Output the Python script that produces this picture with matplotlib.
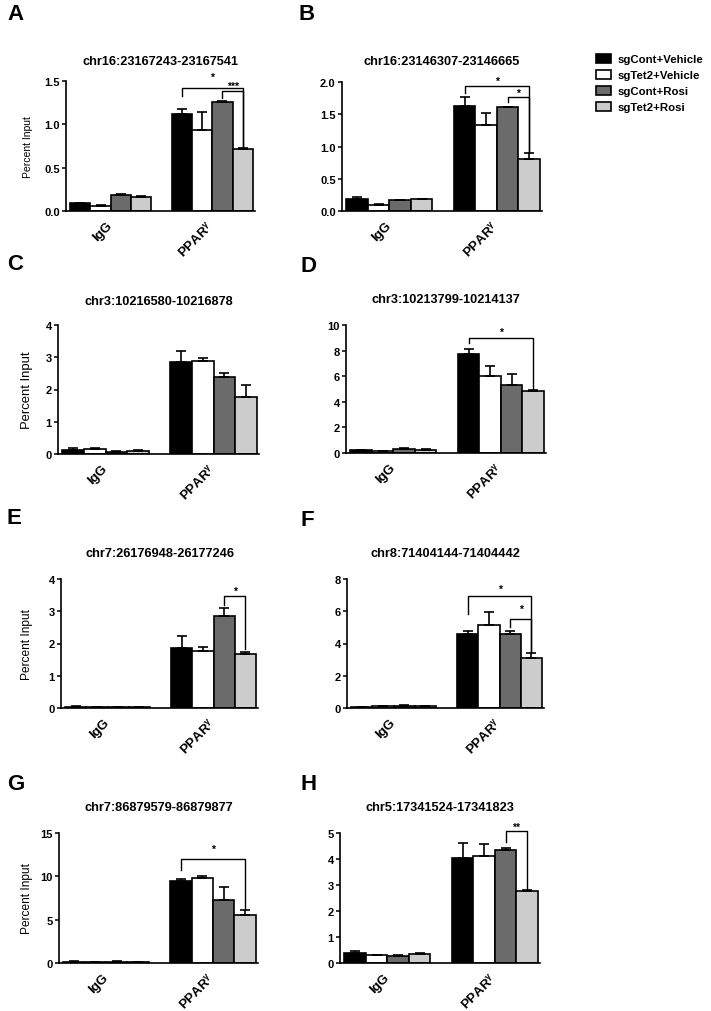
import matplotlib
matplotlib.use("Agg")
import matplotlib.pyplot as plt
from matplotlib.patches import Patch
import numpy as np

plt.rcParams['font.family'] = ['Liberation Sans', 'DejaVu Sans']
plt.rcParams['font.weight'] = 'bold'
plt.rcParams['mathtext.fontset'] = 'custom'
plt.rcParams['mathtext.bf'] = 'Liberation Sans:bold'
plt.rcParams['mathtext.default'] = 'bf'

GROUPS = ["sgCont+Vehicle", "sgTet2+Vehicle", "sgCont+Rosi", "sgTet2+Rosi"]
COLORS = ["#000000", "#ffffff", "#6b6b6b", "#cccccc"]
XLABELS = ["IgG", "PPAR$^{γ}$"]

LETTERS = ["A", "B", "C", "D", "E", "F", "G", "H"]
TITLES = ["chr16:23167243-23167541", "chr16:23146307-23146665",
          "chr3:10216580-10216878", "chr3:10213799-10214137",
          "chr7:26176948-26177246", "chr8:71404144-71404442",
          "chr7:86879579-86879877", "chr5:17341524-17341823"]
YMAX = [1.5, 2.0, 4, 10, 4, 8, 15, 5]
YSTEP = [0.5, 0.5, 1, 2, 1, 2, 5, 1]

# means / upper SEM, IgG then PPARg
A_IGG, A_IGG_ERR = [0.09, 0.06, 0.19, 0.16], [0.005, 0.015, 0.006, 0.012]
A_PPAR, A_PPAR_ERR = [1.12, 0.93, 1.26, 0.72], [0.06, 0.21, 0.012, 0.005]
B_IGG, B_IGG_ERR = [0.18, 0.10, 0.17, 0.18], [0.04, 0.015, 0.008, 0.008]
B_PPAR, B_PPAR_ERR = [1.63, 1.34, 1.61, 0.81], [0.14, 0.18, 0.01, 0.09]
C_IGG, C_IGG_ERR = [0.12, 0.15, 0.07, 0.10], [0.06, 0.03, 0.01, 0.01]
C_PPAR, C_PPAR_ERR = [2.86, 2.87, 2.40, 1.78], [0.34, 0.10, 0.12, 0.35]
D_IGG, D_IGG_ERR = [0.20, 0.15, 0.34, 0.27], [0.06, 0.03, 0.05, 0.03]
D_PPAR, D_PPAR_ERR = [7.70, 6.05, 5.32, 4.87], [0.40, 0.74, 0.82, 0.05]
E_IGG, E_IGG_ERR = [0.04, 0.03, 0.03, 0.03], [0.01, 0.005, 0.005, 0.005]
E_PPAR, E_PPAR_ERR = [1.87, 1.76, 2.85, 1.66], [0.35, 0.12, 0.24, 0.08]
F_IGG, F_IGG_ERR = [0.06, 0.12, 0.15, 0.12], [0.02, 0.02, 0.03, 0.02]
F_PPAR, F_PPAR_ERR = [4.62, 5.15, 4.62, 3.10], [0.18, 0.80, 0.16, 0.28]
G_IGG, G_IGG_ERR = [0.15, 0.15, 0.15, 0.12], [0.03, 0.02, 0.03, 0.02]
G_PPAR, G_PPAR_ERR = [9.42, 9.77, 7.31, 5.50], [0.30, 0.25, 1.46, 0.65]
H_IGG, H_IGG_ERR = [0.40, 0.31, 0.28, 0.35], [0.08, 0.01, 0.03, 0.04]
H_PPAR, H_PPAR_ERR = [4.03, 4.13, 4.33, 2.77], [0.57, 0.45, 0.08, 0.03]

# significance brackets: (bar i, bar j, y top, left leg end, right leg end, label, label y)
A_SIG = [(0, 3, 1.42, 1.33, 0.74, "*", 1.55), (2, 3, 1.38, 1.30, 0.74, "***", 1.44)]
B_SIG = [(0, 3, 1.94, 1.83, 0.92, "*", 2.02), (2, 3, 1.76, 1.69, 0.92, "*", 1.83)]
C_SIG = []
D_SIG = [(0, 3, 9.0, 8.6, 5.0, "*", 9.5)]
E_SIG = [(2, 3, 3.48, 3.2, 1.84, "*", 3.62)]
F_SIG = [(0, 3, 6.97, 5.84, 3.46, "*", 7.4), (2, 3, 5.53, 5.05, 3.46, "*", 6.15)]
G_SIG = [(0, 3, 12.0, 10.7, 6.3, "*", 13.2)]
H_SIG = [(2, 3, 5.09, 4.65, 2.82, "**", 5.25)]

IGG = [A_IGG, B_IGG, C_IGG, D_IGG, E_IGG, F_IGG, G_IGG, H_IGG]
IGG_ERR = [A_IGG_ERR, B_IGG_ERR, C_IGG_ERR, D_IGG_ERR, E_IGG_ERR, F_IGG_ERR, G_IGG_ERR, H_IGG_ERR]
PPAR = [A_PPAR, B_PPAR, C_PPAR, D_PPAR, E_PPAR, F_PPAR, G_PPAR, H_PPAR]
PPAR_ERR = [A_PPAR_ERR, B_PPAR_ERR, C_PPAR_ERR, D_PPAR_ERR, E_PPAR_ERR, F_PPAR_ERR, G_PPAR_ERR, H_PPAR_ERR]
SIGS = [A_SIG, B_SIG, C_SIG, D_SIG, E_SIG, F_SIG, G_SIG, H_SIG]

W, H = 711, 1012
# axes boxes in pixels: left, right, top, bottom
BOXES = [(66, 255, 82, 212), (342, 542, 83, 212),
         (58, 259, 326, 455), (346, 546, 326, 454),
         (61, 258, 580, 709), (347, 544, 580, 709),
         (59, 258, 834, 964), (340, 540, 834, 964)]
TITLE_Y = [62, 62, 302, 300, 554, 554, 808, 808]
LETTER_XY = [(7, 15), (298, 15), (7, 264), (300, 267), (7, 519), (300, 521), (7, 785), (300, 785)]
YLABEL_SIZE = [7.5, None, 9.4, None, 8.6, None, 8.6, None]

fig = plt.figure(figsize=(W / 100, H / 100), dpi=100)

IGG_X = np.arange(4)
PPAR_X = np.arange(4) + 5

for k in range(8):
    l, r, t, b = BOXES[k]
    ax = fig.add_axes([l / W, 1 - b / H, (r - l) / W, (b - t) / H])
    for xs, ms, es in ((IGG_X, IGG[k], IGG_ERR[k]), (PPAR_X, PPAR[k], PPAR_ERR[k])):
        ax.bar(xs, ms, width=1.0, color=COLORS, edgecolor="black", linewidth=1.2, zorder=2)
        ax.errorbar(xs, ms, yerr=[np.zeros(4), es], fmt="none", ecolor="black",
                    elinewidth=1.2, capsize=3.5, capthick=1.2, zorder=3)
    for i, j, yt, yl, yr, lab, ly in SIGS[k]:
        xi, xj = PPAR_X[i], PPAR_X[j]
        ax.plot([xi, xi, xj, xj], [yl, yt, yt, yr], color="black", lw=1.0, clip_on=False, zorder=4)
        ax.text((xi + xj) / 2, ly, lab, ha="center", va="center", fontsize=7.5, clip_on=False)
    ax.set_xlim(-0.7, 8.6)
    ax.set_ylim(0, YMAX[k])
    ax.set_yticks(np.arange(0, YMAX[k] + YSTEP[k] / 2, YSTEP[k]))
    if YMAX[k] < 3:
        ax.yaxis.set_major_formatter(matplotlib.ticker.FormatStrFormatter("%.1f"))
    ax.set_xticks([1.5, 6.5])
    ax.set_xticklabels(XLABELS, rotation=45, ha="right", va="center",
                       rotation_mode="anchor", fontsize=9.5)
    ax.tick_params(axis="x", length=0, pad=9)
    ax.tick_params(axis="y", length=3, width=1.1, labelsize=8, pad=1.5)
    for s in ("top", "right"):
        ax.spines[s].set_visible(False)
    for s in ("left", "bottom"):
        ax.spines[s].set_linewidth(1.2)
    if YLABEL_SIZE[k]:
        ax.set_ylabel("Percent Input", fontsize=YLABEL_SIZE[k])
        ax.yaxis.set_label_coords((33 - l) / (r - l), 0.5)
    fig.text((l + r) / 2 / W, 1 - TITLE_Y[k] / H, TITLES[k], ha="center", va="center", fontsize=9.2)
    lx, ly = LETTER_XY[k]
    fig.text(lx / W, 1 - ly / H, LETTERS[k], ha="left", va="center", fontsize=16)

handles = [Patch(facecolor=c, edgecolor="black", linewidth=1.2) for c in COLORS]
fig.legend(handles, GROUPS, loc="upper left", bbox_to_anchor=(596 / W, 1 - 55 / H),
           frameon=False, fontsize=8.2, handlelength=1.3, handleheight=0.8,
           handletextpad=0.6, labelspacing=0.5, borderpad=0, borderaxespad=0)

fig.savefig("out.png", dpi=100)
